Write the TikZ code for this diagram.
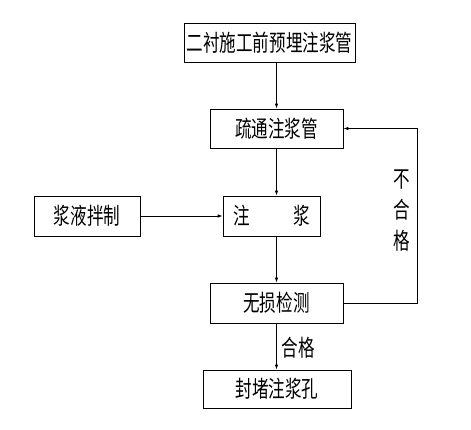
\documentclass[tikz,border=0pt]{standalone}
\usepackage{fontspec}
\newfontfamily\cjk{Noto Sans CJK SC}
\usetikzlibrary{arrows.meta}
\newcommand{\cntext}[1]{\scalebox{0.72}[1]{#1}}
\tikzset{
  box/.style={draw, line width=0.8pt, inner sep=0pt, font=\cjk\fontsize{23}{23}\selectfont},
  arr/.style={line width=0.8pt, -{Latex[length=5pt,width=3.5pt]}},
  lbl/.style={inner sep=0pt, font=\cjk\fontsize{23}{23}\selectfont},
}
\begin{document}
\begin{tikzpicture}[x=1pt,y=-1pt]
\useasboundingbox (0,0) rectangle (471,429);
\node[box, minimum width=171, minimum height=39] (b1) at (269.5,42.5) {\cntext{二衬施工前预埋注浆管}};
\node[box, minimum width=133, minimum height=39] (b2) at (276.5,128.5) {\cntext{疏通注浆管}};
\node[box, minimum width=106, minimum height=40] (b3) at (87,216) {\cntext{浆液拌制}};
\node[box, minimum width=97, minimum height=40] (b4) at (271.5,216) {\cntext{注\hspace{60pt}浆}};
\node[box, minimum width=133, minimum height=40] (b5) at (276.5,303) {\cntext{无损检测}};
\node[box, minimum width=148, minimum height=38] (b6) at (277,389) {\cntext{封堵注浆孔}};
\draw[arr] (b1.south -| b2.north) -- (b2.north);
\draw[arr] (b2.south) -- (b2.south |- b4.north);
\draw[arr] (b3.east) -- (b4.west);
\draw[arr] (b5.north |- b4.south) -- (b5.north);
\draw[arr] (b5.south) -- (b5.south |- b6.north);
\coordinate (fb) at (417,303);
\draw[arr] (b5.east) -- (fb) |- (b2.east);
\node[lbl, align=center] (ng) at (402,211) {\cntext{不}\\[8pt]\cntext{合}\\[8pt]\cntext{格}};
\node[lbl] (ok) at (298,348) {\cntext{合格}};
\end{tikzpicture}
\end{document}
